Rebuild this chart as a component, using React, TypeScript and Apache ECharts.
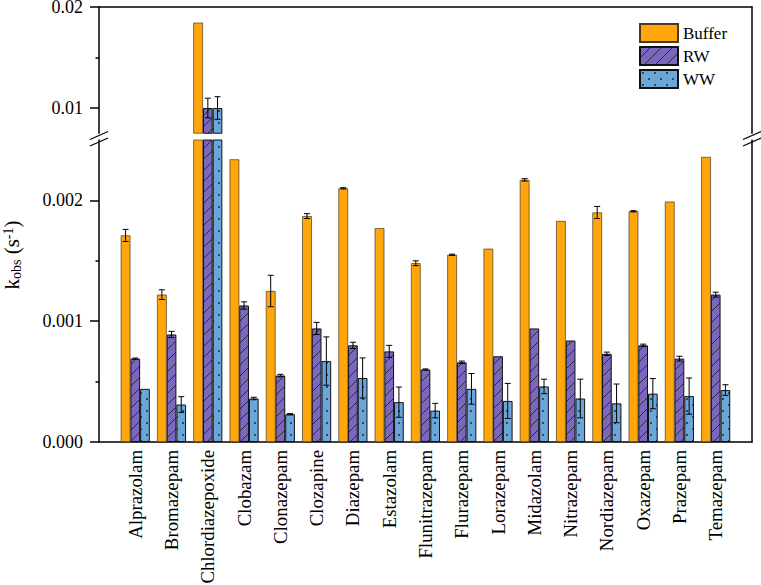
import React, { useEffect, useRef } from 'react';
import * as echarts from 'echarts';

const drugs = [
  'Alprazolam', 'Bromazepam', 'Chlordiazepoxide', 'Clobazam', 'Clonazepam', 'Clozapine',
  'Diazepam', 'Estazolam', 'Flunitrazepam', 'Flurazepam', 'Lorazepam', 'Midazolam',
  'Nitrazepam', 'Nordiazepam', 'Oxazepam', 'Prazepam', 'Temazepam',
];

const buffer = [0.00171, 0.00122, 0.01845, 0.00234, 0.00125, 0.00187, 0.00210, 0.00177, 0.00148, 0.00155, 0.00160, 0.00217, 0.00183, 0.00190, 0.00191, 0.00199, 0.00236];
const bufferErr = [0.00005, 0.00004, 0, 0, 0.00013, 0.00002, 0.000005, 0, 0.00002, 0.000005, 0, 0.00001, 0, 0.00005, 0.000005, 0, 0];
const rw = [0.00069, 0.00089, 0.0100, 0.00113, 0.00055, 0.00094, 0.00080, 0.00075, 0.00060, 0.00066, 0.00071, 0.00094, 0.00084, 0.00073, 0.00080, 0.00069, 0.00122];
const rwErr = [0.000005, 0.000026, 0.00097, 0.00003, 0.00001, 0.00005, 0.000026, 0.00005, 0.000005, 0.00001, 0, 0, 0, 0.000014, 0.00001, 0.00002, 0.00002];
const ww = [0.00044, 0.00031, 0.0100, 0.00036, 0.00023, 0.00067, 0.00053, 0.00033, 0.00026, 0.00044, 0.00034, 0.00046, 0.00036, 0.00032, 0.00040, 0.00038, 0.00043];
const wwErr = [0, 0.000065, 0.00112, 0.00001, 0.000005, 0.0002, 0.000166, 0.000125, 0.00006, 0.000127, 0.000145, 0.00006, 0.00016, 0.00016, 0.000125, 0.00015, 0.000044];

const seriesNames = ['Buffer', 'RW', 'WW'];

const upperTicks = [0.01, 0.02];
const upperMinor = [0.015];
const lowerTicks = [0, 0.001, 0.002];
const lowerMinor = [0.0005, 0.0015];

const UPPER_MIN = 0.0075;
const UPPER_MAX = 0.02;
const LOWER_MIN = 0;
const LOWER_MAX = 0.0025;
const BAR_FRAC = 0.267;
const FONT = 'Liberation Serif';

const GRID_LEFT = 99;
const GRID_RIGHT = 9;
const UP_TOP = 7;
const UP_H = 126.25;
const LOW_TOP = 140;
const LOW_H = 302;

function hatchTile(bg: string, fg: string): HTMLCanvasElement {
  const s = 11;
  const c = document.createElement('canvas');
  c.width = s;
  c.height = s;
  const ctx = c.getContext('2d')!;
  ctx.fillStyle = bg;
  ctx.fillRect(0, 0, s, s);
  ctx.strokeStyle = fg;
  ctx.lineWidth = 1;
  ctx.beginPath();
  ctx.moveTo(-1, s + 1);
  ctx.lineTo(s + 1, -1);
  ctx.moveTo(-1, 1);
  ctx.lineTo(1, -1);
  ctx.moveTo(s - 1, s + 1);
  ctx.lineTo(s + 1, s - 1);
  ctx.stroke();
  return c;
}

function dotTile(bg: string, fg: string): HTMLCanvasElement {
  const w = 12;
  const h = 12;
  const c = document.createElement('canvas');
  c.width = w;
  c.height = h;
  const ctx = c.getContext('2d')!;
  ctx.fillStyle = bg;
  ctx.fillRect(0, 0, w, h);
  ctx.fillStyle = fg;
  ctx.beginPath();
  ctx.arc(3, 3, 0.9, 0, Math.PI * 2);
  ctx.arc(9, 9, 0.9, 0, Math.PI * 2);
  ctx.fill();
  return c;
}

const values = [buffer, rw, ww];
const errors = [bufferErr, rwErr, wwErr];

function App() {
  const ref = useRef<HTMLDivElement>(null);
  useEffect(() => {
    if (!ref.current) return;
    const chart = echarts.init(ref.current, null, { renderer: 'svg' });
    const categories = ['', ...drugs, ''];
    const pad = (arr: number[], keep: (v: number) => boolean) => ['-', ...arr.map((v) => (keep(v) ? v : '-')), '-'];

    const styles: any[] = [
      { color: '#FFA60C', borderColor: '#4a3a20', borderWidth: 0.7 },
      {
        color: { image: hatchTile('#7B68BE', '#2a2a3a'), repeat: 'repeat' },
        borderColor: '#111', borderWidth: 1,
      },
      {
        color: { image: dotTile('#6BA6DA', '#1a1a1a'), repeat: 'repeat' },
        borderColor: '#111', borderWidth: 1,
      },
    ];

    const barSeries: any[] = [];
    [0, 1].forEach((gi) => {
      values.forEach((arr, k) => {
        barSeries.push({
          type: 'bar',
          name: seriesNames[k],
          xAxisIndex: gi,
          yAxisIndex: gi === 0 ? 0 : 2,
          data: pad(arr, (v) => (gi === 0 ? v > UPPER_MIN : true)),
          barWidth: `${BAR_FRAC * 100}%`,
          barGap: '0%',
          itemStyle: styles[k],
          emphasis: { disabled: true },
          clip: true,
        });
      });
    });

    const errData = (inRange: (v: number) => boolean) => {
      const out: number[][] = [];
      values.forEach((arr, k) => {
        arr.forEach((v, i) => {
          const e = errors[k][i];
          if (e > 0 && inRange(v)) out.push([i + 1, v, e, k]);
        });
      });
      return out;
    };

    const renderErr = (params: any, api: any) => {
      const cat = api.value(0);
      const v = api.value(1);
      const e = api.value(2);
      const k = api.value(3);
      const bw = api.size([1, 0])[0];
      const w = bw * BAR_FRAC;
      const c = api.coord([cat, v]);
      const x = c[0] + (k - 1) * w;
      const top = api.coord([cat, v + e])[1];
      const bot = api.coord([cat, v - e])[1];
      const cap = 3;
      const st = { stroke: '#000', lineWidth: 1 };
      return {
        type: 'group',
        children: [
          { type: 'line', shape: { x1: x, y1: top, x2: x, y2: bot }, style: st },
          { type: 'line', shape: { x1: x - cap, y1: top, x2: x + cap, y2: top }, style: st },
          { type: 'line', shape: { x1: x - cap, y1: bot, x2: x + cap, y2: bot }, style: st },
        ],
      };
    };

    const axisLineStyle = { color: '#000', width: 1.5 };
    const labelStyle = { color: '#000', fontFamily: FONT, fontSize: 18 };

    const mkY = (grid: number, min: number, max: number, extra: any) => ({
      type: 'value', gridIndex: grid, min, max,
      splitLine: { show: false },
      axisLine: { show: true, lineStyle: axisLineStyle },
      axisTick: { show: false },
      axisLabel: { show: false },
      ...extra,
    });

    const breakLines = (cx: number) => [
      { type: 'line', shape: { x1: cx - 9, y1: 139.5, x2: cx + 9, y2: 131.5 }, style: { stroke: '#000', lineWidth: 1.3 }, z: 100 },
      { type: 'line', shape: { x1: cx - 9, y1: 146, x2: cx + 9, y2: 138 }, style: { stroke: '#000', lineWidth: 1.3 }, z: 100 },
    ];

    chart.setOption({
      animation: false,
      backgroundColor: '#fff',
      textStyle: { fontFamily: FONT },
      grid: [
        { left: GRID_LEFT, right: GRID_RIGHT, top: UP_TOP, height: UP_H, outerBoundsMode: 'none', containLabel: false },
        { left: GRID_LEFT, right: GRID_RIGHT, top: LOW_TOP, height: LOW_H, outerBoundsMode: 'none', containLabel: false },
      ],
      legend: {
        data: seriesNames,
        orient: 'vertical',
        left: 639,
        top: 23,
        padding: 0,
        itemWidth: 38,
        itemHeight: 18,
        itemGap: 3,
        icon: 'rect',
        selectedMode: false,
        textStyle: { color: '#000', fontFamily: FONT, fontSize: 17 },
      },
      xAxis: [
        {
          type: 'category', gridIndex: 0, data: categories, boundaryGap: false, position: 'top',
          axisLine: { show: true, lineStyle: axisLineStyle }, axisTick: { show: false }, axisLabel: { show: false },
        },
        {
          type: 'category', gridIndex: 1, data: categories, boundaryGap: false, position: 'bottom',
          axisLine: { show: true, lineStyle: axisLineStyle }, axisTick: { show: false },
          axisLabel: { ...labelStyle, fontSize: 18.8, lineHeight: 16, interval: 0, rotate: 90, margin: 8 },
        },
      ],
      yAxis: [
        mkY(0, UPPER_MIN, UPPER_MAX, {
          position: 'left',
          axisTick: { show: true, customValues: upperTicks, length: 9, lineStyle: axisLineStyle },
          axisLabel: { ...labelStyle, lineHeight: 14, padding: [3, 0, 0, 0], show: true, customValues: upperTicks, margin: 16, formatter: (v: number) => v.toFixed(2) },
        }),
        mkY(0, UPPER_MIN, UPPER_MAX, { position: 'right' }),
        mkY(1, LOWER_MIN, LOWER_MAX, {
          position: 'left',
          axisTick: { show: true, customValues: lowerTicks, length: 9, lineStyle: axisLineStyle },
          axisLabel: { ...labelStyle, lineHeight: 14, padding: [3, 0, 0, 0], show: true, customValues: lowerTicks, margin: 16, formatter: (v: number) => v.toFixed(3) },
        }),
        mkY(1, LOWER_MIN, LOWER_MAX, { position: 'right' }),
        mkY(0, UPPER_MIN, UPPER_MAX, {
          position: 'left', axisLine: { show: false },
          axisTick: { show: true, customValues: upperMinor, length: 3.5, lineStyle: axisLineStyle },
        }),
        mkY(1, LOWER_MIN, LOWER_MAX, {
          position: 'left', axisLine: { show: false },
          axisTick: { show: true, customValues: lowerMinor, length: 3.5, lineStyle: axisLineStyle },
        }),
      ],
      series: [
        ...barSeries,
        {
          type: 'custom', name: 'errUpper', xAxisIndex: 0, yAxisIndex: 0, z: 5,
          data: errData((v) => v > UPPER_MIN), renderItem: renderErr, silent: true,
        },
        {
          type: 'custom', name: 'errLower', xAxisIndex: 1, yAxisIndex: 2, z: 5,
          data: errData((v) => v < LOWER_MAX), renderItem: renderErr, silent: true,
        },
      ],
      graphic: [
        ...breakLines(99),
        ...breakLines(752),
        {
          type: 'text',
          x: 12,
          y: 255,
          rotation: Math.PI / 2,
          style: {
            text: '{a|k}{b|obs}{a| (s}{c|-1}{a|)}',
            align: 'center',
            verticalAlign: 'middle',
            fill: '#000',
            rich: {
              a: { fontSize: 21, fontFamily: FONT, lineHeight: 22, verticalAlign: 'middle', fill: '#000' },
              b: { fontSize: 14, fontFamily: FONT, lineHeight: 11, verticalAlign: 'bottom', fill: '#000' },
              c: { fontSize: 14, fontFamily: FONT, lineHeight: 11, verticalAlign: 'top', fill: '#000' },
            },
          },
        },
      ],
    });
    return () => chart.dispose();
  }, []);
  return <div ref={ref} style={{ position: 'fixed', left: 0, top: 0, width: 761, height: 585 }} />;
}

export default App;
